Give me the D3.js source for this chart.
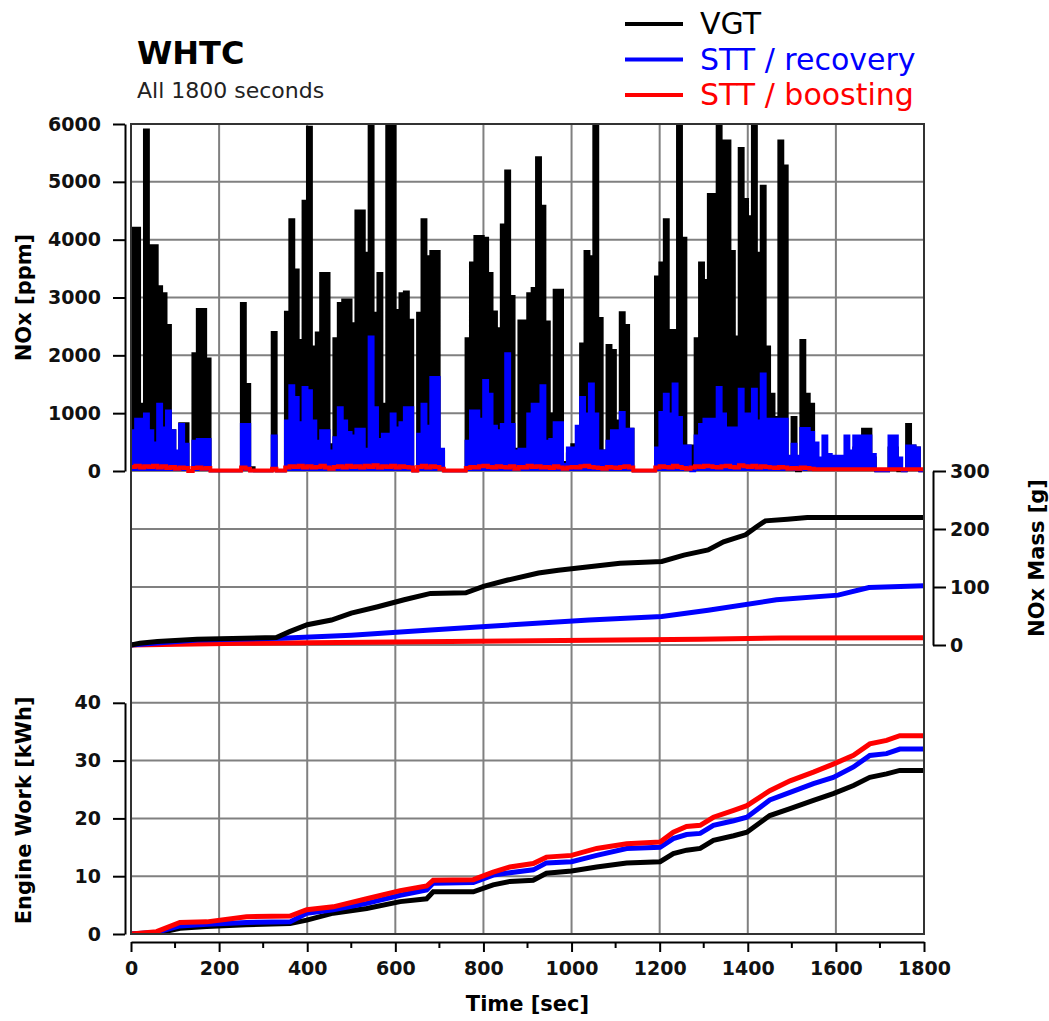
<!DOCTYPE html>
<html>
<head>
<meta charset="utf-8">
<script src="https://cdn.jsdelivr.net/npm/d3@7"></script>
<style>
  body { margin: 0; background: #fff; }
  svg { display: block; font-family: "DejaVu Sans", Verdana, sans-serif; }
</style>
</head>
<body>
<div id="chart"></div>
<script>
const width = 1049
const height = 1021

// NOx concentration, one value per 10 s bin (t = 0, 10, ... 1800)
const noxStep = 10
const noxVGT = [
  4200,4200,1160,5900,3900,3900,3190,3070,2520,700,
  150,820,820,0,2030,2795,2795,1940,0,0,
  0,0,0,0,0,2900,1500,60,0,0,
  0,0,2400,0,0,2750,4350,3480,2260,4670,
  5950,2150,2390,3420,3420,460,2290,2900,2960,2960,
  2550,4500,4500,3770,6000,2730,3420,1160,6000,6000,
  2780,3070,3100,2610,0,2730,4350,3710,3800,3800,
  350,0,0,0,0,0,2290,3600,4060,4060,
  4030,3420,2755,2465,4260,5190,3020,380,2600,2600,
  3070,3160,5420,4580,2580,990,3130,3130,150,300,
  460,460,2200,3800,3710,6000,2640,350,2175,2090,
  870,2740,2520,725,0,0,0,0,0,3360,
  3600,4350,2435,2435,6000,4030,435,435,2290,3600,
  3300,4785,4785,6000,5710,5710,3800,2320,5580,4700,
  4400,6000,3770,4930,2150,1330,930,5710,5280,200,
  930,0,2260,1330,1160,150,150,150,150,150,
  150,150,150,300,400,600,725,725,230,0,
  0,0,400,400,0,0,810,435,400,0,
  0
]
const noxRecovery = [
  700,900,900,990,700,490,1160,750,1040,700,
  350,810,465,0,520,550,550,550,0,0,
  0,0,0,0,0,810,810,0,0,0,
  0,0,610,0,0,870,1480,1275,840,1450,
  1390,870,520,700,700,350,580,1100,870,670,
  610,725,725,380,2320,1100,550,640,640,990,
  750,840,1100,1100,0,640,1160,780,1620,1620,
  380,0,0,0,0,0,520,1040,1040,900,
  1570,1330,780,700,810,2030,810,350,380,380,
  990,1160,1160,1480,520,550,840,840,115,400,
  400,780,1275,990,1510,990,350,350,520,700,
  700,1015,725,725,0,0,0,0,0,400,
  1015,1330,990,1510,930,435,435,0,610,810,
  900,900,900,1450,990,750,750,750,1420,990,
  990,1420,870,1680,900,900,900,900,900,260,
  465,260,740,740,670,490,230,610,290,260,
  260,260,610,350,610,610,610,610,290,0,
  0,0,610,610,230,0,435,435,400,0,
  0
]
const noxBoosting = [
  70,90,60,80,70,90,60,80,50,70,
  40,60,50,0,50,60,40,50,10,10,
  10,10,10,10,10,60,40,10,10,10,
  10,10,40,10,10,60,80,70,90,60,
  80,60,70,90,60,40,70,80,60,90,
  70,80,60,90,70,100,60,80,70,90,
  60,80,70,60,10,70,90,60,80,70,
  40,10,10,10,10,10,50,70,60,80,
  90,70,60,80,70,60,80,40,70,60,
  90,70,80,60,70,50,80,60,40,60,
  70,60,80,90,70,60,50,40,70,60,
  50,70,80,60,10,10,10,10,10,60,
  80,70,60,90,70,50,40,60,80,70,
  90,80,70,60,80,90,70,60,100,80,
  70,90,60,80,70,60,50,70,60,40,
  50,40,60,50,40,30,30,30,30,30,
  30,30,30,30,30,30,30,30,30,30,
  30,30,30,30,30,30,30,30,30,30,
  30
]

// cumulative NOx mass [g]
const massVGTt = [0,20,60,150,330,360,400,455,500,560,620,680,760,800,855,925,970,1040,1110,1205,1255,1310,1345,1395,1420,1440,1490,1535,1800]
const massVGT  = [0,3,6,10,13,23,35,43,55,66,78,89,90,101,112,124,129,135,141,144,155,164,178,190,204,214,217,220,220]
const massRecT = [0,150,340,500,680,805,1040,1205,1310,1465,1605,1675,1800]
const massRec  = [0,8.6,11.5,17,26,32,43,49,60,78,86,99,102]
const massBoostT = [0,250,850,1290,1475,1800]
const massBoost  = [0,3,7,10,12,12.5]

// cumulative engine work [kWh]
const workT = [0,58,111,172,262,361,399,459,535,611,671,686,777,822,860,913,943,1000,1057,1125,1201,1231,1261,1292,1322,1368,1398,1450,1496,1549,1594,1640,1677,1715,1745,1800]
const workVGT = [0,0.1,1.0,1.3,1.6,1.8,2.4,3.6,4.4,5.6,6.1,7.3,7.3,8.5,9.1,9.3,10.5,10.9,11.6,12.3,12.5,13.9,14.5,14.8,16.2,17.0,17.6,20.5,21.7,23.1,24.3,25.7,27.1,27.7,28.3,28.3]
const workRec = [0,0.3,1.4,1.7,2.0,2.1,3.6,4.2,5.3,6.7,7.6,8.8,8.9,10.2,10.6,11.1,12.3,12.5,13.6,14.8,15.0,16.5,17.2,17.4,18.8,19.6,20.2,23.2,24.5,26.0,27.1,28.9,30.9,31.2,32.0,32.0]
const workBoost = [0,0.4,2.0,2.1,3.0,3.1,4.2,4.7,6.1,7.5,8.3,9.3,9.4,10.7,11.6,12.2,13.3,13.6,14.8,15.6,15.9,17.6,18.6,18.8,20.2,21.4,22.2,24.8,26.5,28.0,29.4,30.9,32.9,33.5,34.3,34.3]

const seriesNames = ['VGT', 'STT / recovery', 'STT / boosting']
const colors = ['#000000', '#0000ff', '#ff0000']

const plot = { left: 131, right: 924, top: 124, bottom: 934 }
const gridColor = '#808080'

const svg = d3.select('#chart').append('svg')
  .attr('width', width)
  .attr('height', height)
  .attr('viewBox', [0, 0, width, height])

const x = d3.scaleLinear().domain([0, 1800]).range([plot.left, plot.right])
const yNox = d3.scaleLinear().domain([0, 6000]).range([471, plot.top])
const yMass = d3.scaleLinear().domain([0, 300]).range([645, 471])
const yWork = d3.scaleLinear().domain([0, 50]).range([plot.bottom, 645])

// grid
const grid = svg.append('g').attr('stroke', gridColor).attr('stroke-width', 2)
grid.selectAll('.vg').data(d3.range(200, 1800, 200)).join('line')
  .attr('x1', d => x(d)).attr('x2', d => x(d))
  .attr('y1', plot.top).attr('y2', plot.bottom)
const hLines = [
  ...[0, 1000, 2000, 3000, 4000, 5000].map(yNox),
  ...[0, 100, 200].map(yMass),
  ...[10, 20, 30, 40].map(yWork)
]
grid.selectAll('.hg').data(hLines).join('line')
  .attr('x1', plot.left).attr('x2', plot.right)
  .attr('y1', d => d).attr('y2', d => d)

// clip paths
const defs = svg.append('defs')
defs.append('clipPath').attr('id', 'clipTop').append('rect')
  .attr('x', plot.left).attr('y', plot.top).attr('width', plot.right - plot.left).attr('height', 475 - plot.top)
defs.append('clipPath').attr('id', 'clipAll').append('rect')
  .attr('x', plot.left).attr('y', plot.top).attr('width', plot.right - plot.left).attr('height', plot.bottom - plot.top)

// NOx ppm panel
const topG = svg.append('g').attr('clip-path', 'url(#clipTop)')
const stepArea = d3.area().curve(d3.curveStepAfter)
  .x((d, i) => x(i * noxStep)).y0(yNox(0)).y1(d => yNox(d))
const stepLine = d3.line().curve(d3.curveStepAfter)
  .x((d, i) => x(i * noxStep)).y(d => yNox(d))

;[noxVGT, noxRecovery].forEach((s, k) => {
  topG.append('path').datum(s).attr('d', stepArea).attr('fill', colors[k])
  topG.append('path').datum(s).attr('d', stepLine)
    .attr('fill', 'none').attr('stroke', colors[k]).attr('stroke-width', 2.5)
})
topG.append('path').datum(noxBoosting).attr('d', stepLine)
  .attr('fill', 'none').attr('stroke', colors[2]).attr('stroke-width', 4)

// cumulative panels
const allG = svg.append('g').attr('clip-path', 'url(#clipAll)')
function cumLine(ts, vs, yScale, color) {
  const pts = ts.map((t, i) => [t, vs[i]])
  allG.append('path').datum(pts)
    .attr('d', d3.line().x(d => x(d[0])).y(d => yScale(d[1])))
    .attr('fill', 'none').attr('stroke', color).attr('stroke-width', 5)
}
cumLine(massBoostT, massBoost, yMass, colors[2])
cumLine(massRecT, massRec, yMass, colors[1])
cumLine(massVGTt, massVGT, yMass, colors[0])
cumLine(workT, workVGT, yWork, colors[0])
cumLine(workT, workRec, yWork, colors[1])
cumLine(workT, workBoost, yWork, colors[2])

// frame
svg.append('rect')
  .attr('x', plot.left).attr('y', plot.top)
  .attr('width', plot.right - plot.left).attr('height', plot.bottom - plot.top)
  .attr('fill', 'none').attr('stroke', '#333').attr('stroke-width', 2)

// axes
function styleAxis(g, size) {
  g.selectAll('path, line').attr('stroke', '#000').attr('stroke-width', 2)
  g.selectAll('text').attr('font-size', size).attr('font-weight', 'bold')
    .attr('fill', '#111').attr('font-family', '"DejaVu Sans", Verdana, sans-serif')
}
const axisLeftNox = svg.append('g').attr('transform', 'translate(125,0)')
  .call(d3.axisLeft(yNox).tickValues([0, 1000, 2000, 3000, 4000, 5000, 6000])
    .tickFormat(d3.format('d')).tickSize(12).tickSizeOuter(0).tickPadding(12))
styleAxis(axisLeftNox, 19)

const yWorkAxis = yWork.copy().domain([0, 40]).range([yWork(0), yWork(40)])
const axisLeftWork = svg.append('g').attr('transform', 'translate(125,0)')
  .call(d3.axisLeft(yWorkAxis).tickValues([0, 10, 20, 30, 40])
    .tickSize(12).tickSizeOuter(0).tickPadding(12))
styleAxis(axisLeftWork, 19)

const axisRightMass = svg.append('g').attr('transform', 'translate(933,0)')
  .call(d3.axisRight(yMass).tickValues([0, 100, 200, 300])
    .tickSize(13).tickSizeOuter(0).tickPadding(4))
styleAxis(axisRightMass, 19)

const axisBottomT = svg.append('g').attr('transform', 'translate(0,942)')
  .call(d3.axisBottom(x).tickValues(d3.range(0, 1801, 200)).tickFormat(d3.format('d'))
    .tickSize(10).tickSizeOuter(0).tickPadding(10))
styleAxis(axisBottomT, 19)
axisBottomT.selectAll('.minor').data(d3.range(100, 1800, 200)).join('line')
  .attr('x1', d => x(d)).attr('x2', d => x(d)).attr('y1', 0).attr('y2', 6)
  .attr('stroke', '#000').attr('stroke-width', 2)

// axis titles
const titleFont = { size: 21, weight: 'bold' }
svg.append('text').attr('transform', `translate(31,${(124 + 471) / 2}) rotate(-90)`)
  .attr('text-anchor', 'middle').attr('font-size', titleFont.size).attr('font-weight', titleFont.weight)
  .text('NOx [ppm]')
svg.append('text').attr('transform', `translate(31,${yWork(20) - 8}) rotate(-90)`)
  .attr('text-anchor', 'middle').attr('font-size', titleFont.size).attr('font-weight', titleFont.weight)
  .text('Engine Work [kWh]')
svg.append('text').attr('transform', `translate(1044,558) rotate(-90)`)
  .attr('text-anchor', 'middle').attr('font-size', titleFont.size).attr('font-weight', titleFont.weight)
  .text('NOx Mass [g]')
svg.append('text').attr('x', (plot.left + plot.right) / 2).attr('y', 1011)
  .attr('text-anchor', 'middle').attr('font-size', titleFont.size).attr('font-weight', titleFont.weight)
  .text('Time [sec]')

// title
svg.append('text').attr('x', 137).attr('y', 64)
  .attr('font-size', 32).attr('font-weight', 'bold').text('WHTC')
svg.append('text').attr('x', 137).attr('y', 98)
  .attr('font-size', 22).attr('fill', '#222').text('All 1800 seconds')

// legend
const legend = svg.append('g')
seriesNames.forEach((name, i) => {
  const ly = 24 + i * 35.5
  legend.append('line').attr('x1', 625).attr('x2', 683).attr('y1', ly).attr('y2', ly)
    .attr('stroke', colors[i]).attr('stroke-width', 4)
  legend.append('text').attr('x', 700).attr('y', ly + 10)
    .attr('font-size', 30).attr('fill', colors[i]).text(name)
})
</script>
</body>
</html>
